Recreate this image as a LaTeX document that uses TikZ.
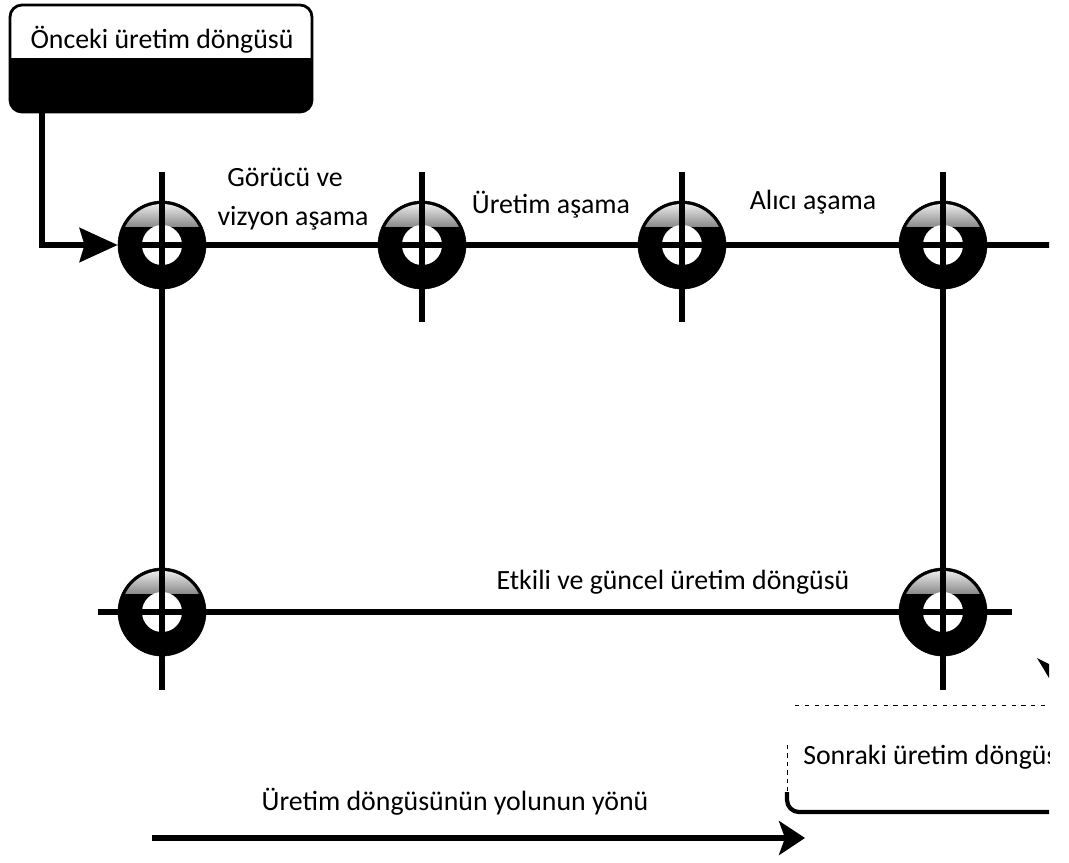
\documentclass[tikz,border=0pt]{standalone}
\usepackage{fontspec}
\setmainfont{Carlito}
\usetikzlibrary{arrows.meta, calc, positioning}

\tikzset{
  wire/.style={line width=0.15cm},
  hub/.style={circle, fill=black, draw=black, minimum size=2.2cm, inner sep=0pt},
  lbl/.style={font=\fontsize{19.8}{22}\selectfont, inner sep=0pt},
}

\begin{document}
\begin{tikzpicture}[x=0.025cm, y=-0.025cm]
  \useasboundingbox (0,0) rectangle (1069,862);
  \clip (0,0) rectangle (1049,862);

  % onceki dongu kutusu
  \begin{scope}
    \clip[rounded corners=0.3cm] (10,5) rectangle (312,112);
    \fill (10,58) rectangle (312,112);
  \end{scope}
  \draw[rounded corners=0.3cm, line width=2pt] (10,5) rectangle (312,112);
  \node[lbl] (prev) at (162,40) {Önceki üretim döngüsü};
  \coordinate (prevout) at (42,112);

  % dugumler
  \node[hub] (t1) at (162,245) {};
  \node[hub] (t2) at (422,245) {};
  \node[hub] (t3) at (682,245) {};
  \node[hub] (t4) at (943,245) {};
  \node[hub] (b1) at (162,612) {};
  \node[hub] (b2) at (943,612) {};
  \foreach \n in {t1,t2,t3,t4,b1,b2} {
    \begin{scope}
      \clip (\n.center) circle (41);
      \shade[top color=white, middle color=white, bottom color=white!55!black]
        ($(\n.center)+(-45,-46)$) rectangle ($(\n.center)+(45,-19)$);
    \end{scope}
    \fill[white] (\n.center) circle (20);
  }

  % hatlar
  \draw[wire, -{Stealth[length=0.95cm, width=0.85cm, inset=0.12cm]}] (prevout) |- (t1.west);
  \draw[wire] (t1.west) -- (t2.center) -- (t3.center) -- (t4.center) -- ++(120,0);
  \draw[wire] ($(t1)+(0,-73)$) -- (b1.center) -- ++(0,78);
  \draw[wire] ($(t4)+(0,-73)$) -- (b2.center) -- ++(0,78);
  \foreach \n in {t2,t3}
    \draw[wire] ($(\n)+(0,-73)$) -- ($(\n)+(0,77)$);
  \draw[wire] ($(b1)+(-64,0)$) -- (b2.center) -- ++(69,0);

  % etiketler
  \node[lbl] (see1) at (285,177) {Görücü ve};
  \node[lbl] (see2) at (293,218) {vizyon aşama};
  \node[lbl] (make) at (551,205) {Üretim aşama};
  \node[lbl] (buy) at (813,202) {Alıcı aşama};
  \node[lbl] (loop) at (673,582) {Etkili ve güncel üretim döngüsü};

  % sonraki dongu kutusu
  \draw[line width=0.4pt, dash pattern=on 3pt off 4pt] (795,705) -- (1069,705);
  \draw[line width=0.4pt, dash pattern=on 3pt off 3pt] (787,745) -- (787,792);
  \draw[line width=3pt, rounded corners=0.3cm] (787,792) -- (787,812) -- (1069,812);
  \node[lbl, anchor=west] (next) at (803,757) {Sonraki üretim döngüsü};
  \fill (1037,658) -- (1049,664) -- (1049,678) -- cycle;

  % yon oku
  \coordinate (dirstart) at (152,838);
  \coordinate (dirend) at (805,838);
  \node[lbl] (dir) at (455,802) {Üretim döngüsünün yolunun yönü};
  \draw[wire, -{Stealth[length=0.65cm, width=0.85cm, inset=0.15cm]}] (dirstart) -- (dirend);
\end{tikzpicture}
\end{document}
